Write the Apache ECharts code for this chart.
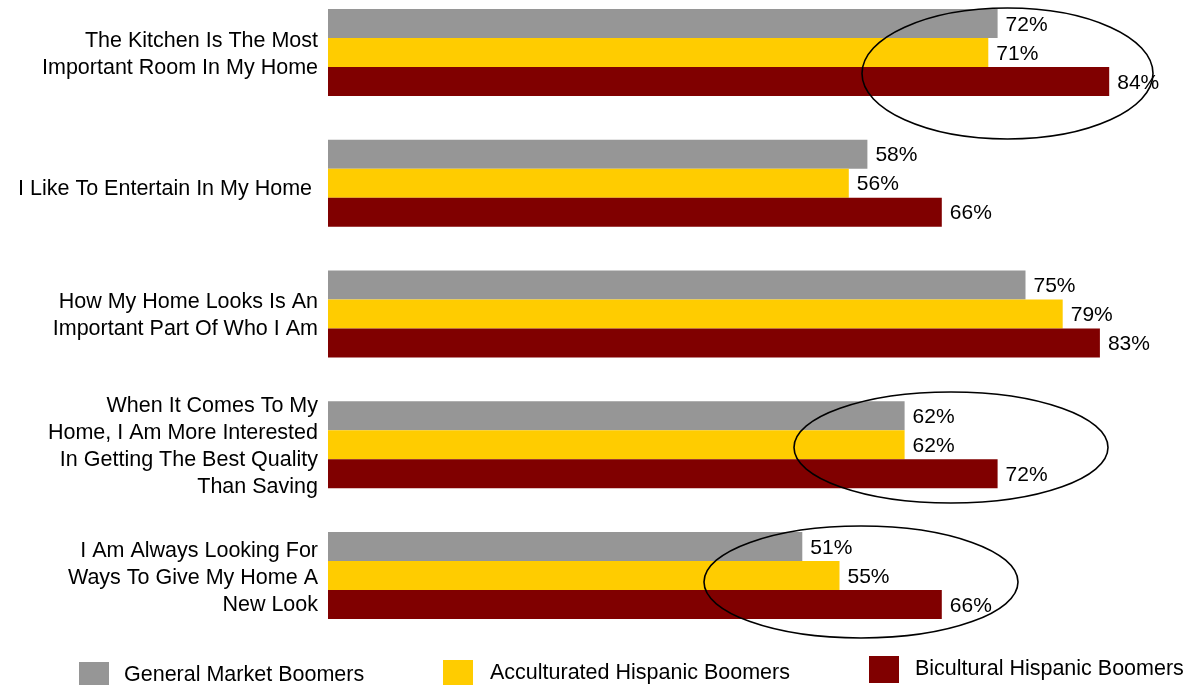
<!DOCTYPE html>
<html>
<head>
<meta charset="utf-8">
<script src="https://cdn.jsdelivr.net/npm/echarts@6/dist/echarts.min.js"></script>
<style>
  html, body { margin: 0; padding: 0; background: #fff; }
  #chart { width: 1189px; height: 685px; }
</style>
</head>
<body>
<div id="chart"></div>
<script>
// Survey statements (top to bottom)
const categories = [
  'The Kitchen Is The Most\nImportant Room In My Home',
  'I Like To Entertain In My Home ',
  'How My Home Looks Is An\nImportant Part Of Who I Am',
  'When It Comes To My\nHome, I Am More Interested\nIn Getting The Best Quality\nThan Saving',
  'I Am Always Looking For\nWays To Give My Home A\nNew Look'
];

const seriesNames = [
  'General Market Boomers',
  'Acculturated Hispanic Boomers',
  'Bicultural Hispanic Boomers'
];

// Percent agreeing, per group
const generalMarket = [72, 58, 75, 62, 51];
const acculturated  = [71, 56, 79, 62, 55];
const bicultural    = [84, 66, 83, 72, 66];

const colors = ['#969696', '#ffcc00', '#800000'];
const FONT = '"Liberation Sans", Arial, sans-serif';

const chart = echarts.init(document.getElementById('chart'));

function barSeries(name, data, color) {
  return {
    name: name,
    type: 'bar',
    data: data,
    barWidth: 29,
    barGap: '0%',
    itemStyle: { color: color },
    label: {
      show: true,
      position: 'right',
      distance: 8,
      offset: [0, 1.5],
      formatter: '{c}%',
      color: '#000',
      fontFamily: FONT,
      fontSize: 21
    },
    silent: true
  };
}

function legendFor(name, left, top, textGap) {
  return {
    data: [name],
    left: left,
    top: top,
    padding: 0,
    orient: 'horizontal',
    itemWidth: 30,
    itemHeight: 27,
    icon: 'rect',
    selectedMode: false,
    textStyle: {
      color: '#000',
      fontFamily: FONT,
      fontSize: 21.5,
      padding: [0, 0, 0, textGap]
    }
  };
}

const labelText = { color: '#000', fontFamily: FONT, fontSize: 21.5, lineHeight: 27 };

chart.setOption({
  animation: false,
  backgroundColor: '#fff',
  grid: {
    left: 328, right: 24, top: -13, height: 654,
    containLabel: false,
    outerBoundsMode: 'none'
  },
  xAxis: {
    type: 'value',
    min: 0,
    max: 90,
    show: false,
    splitLine: { show: false }
  },
  yAxis: {
    type: 'category',
    data: categories,
    inverse: true,
    axisLine: { show: false },
    axisTick: { show: false },
    axisLabel: {
      margin: 10,
      align: 'right',
      // a thin blank line on top nudges each statement block slightly down
      // (more for the single-line statement)
      formatter: function (value, index) {
        const lines = value.split('\n').map(function (line) {
          return '{t|' + line + '}';
        });
        return (index === 1 ? '{gapL| }\n' : '{gapS| }\n') + lines.join('\n');
      },
      rich: {
        t: labelText,
        gapS: { fontSize: 1, lineHeight: 4, height: 4 },
        gapL: { fontSize: 1, lineHeight: 12, height: 12 }
      }
    }
  },
  legend: [
    legendFor(seriesNames[0], 79, 662, 10),
    legendFor(seriesNames[1], 443, 660, 12),
    legendFor(seriesNames[2], 869, 656, 11)
  ],
  series: [
    barSeries(seriesNames[0], generalMarket, colors[0]),
    barSeries(seriesNames[1], acculturated, colors[1]),
    barSeries(seriesNames[2], bicultural, colors[2])
  ],
  graphic: [
    { type: 'ellipse', shape: { cx: 1007.5, cy: 73.5, rx: 145.5, ry: 65.5 },
      style: { fill: 'none', stroke: '#000', lineWidth: 1.6 }, z: 100, silent: true },
    { type: 'ellipse', shape: { cx: 951, cy: 447.5, rx: 157, ry: 55.5 },
      style: { fill: 'none', stroke: '#000', lineWidth: 1.6 }, z: 100, silent: true },
    { type: 'ellipse', shape: { cx: 861, cy: 582, rx: 157, ry: 56 },
      style: { fill: 'none', stroke: '#000', lineWidth: 1.6 }, z: 100, silent: true }
  ]
});
</script>
</body>
</html>
